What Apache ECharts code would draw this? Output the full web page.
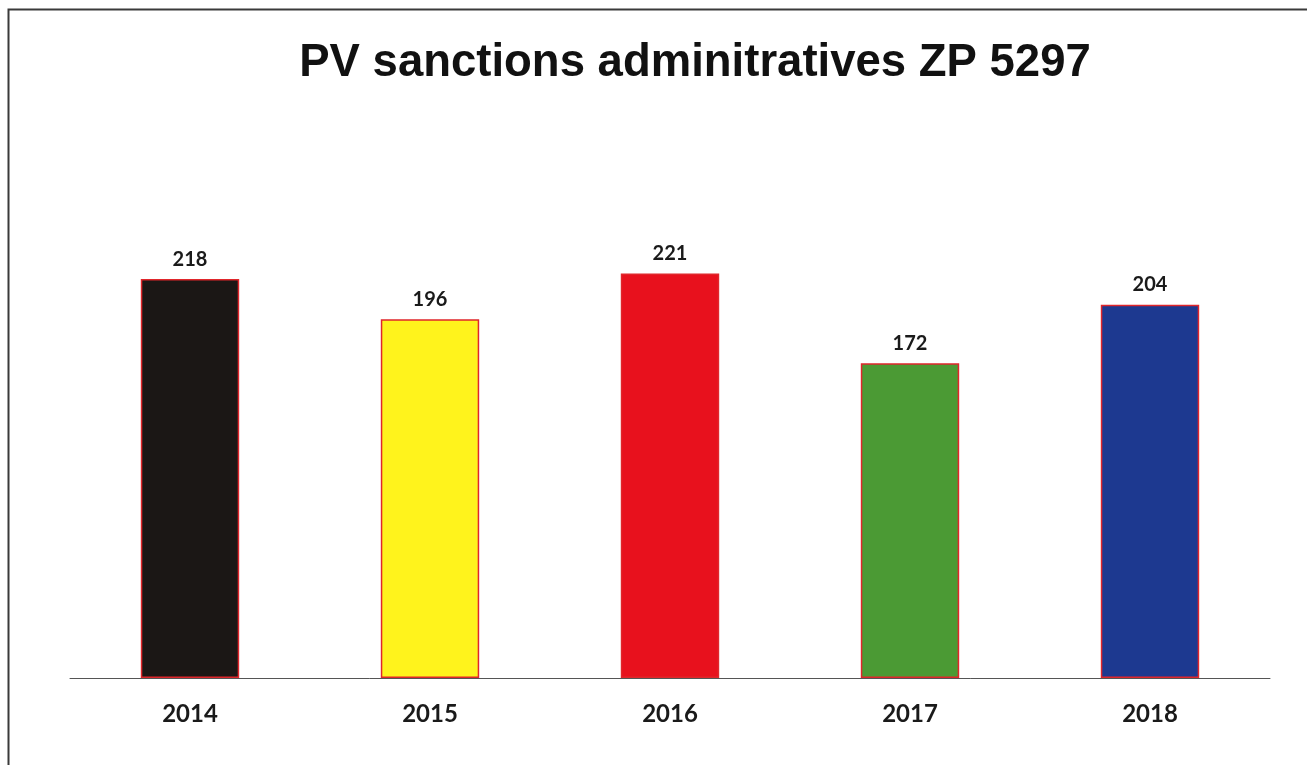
<!DOCTYPE html>
<html>
<head>
<meta charset="utf-8">
<script src="https://cdn.jsdelivr.net/npm/echarts@6/dist/echarts.min.js"></script>
<style>
  html, body { margin: 0; padding: 0; background: #fff; }
  #chart { width: 1307px; height: 765px; }
</style>
</head>
<body>
<div id="chart"></div>
<script>
// années et nombre de PV
const years = ['2014', '2015', '2016', '2017', '2018']
const counts = [218, 196, 221, 172, 204]
const barColors = ['#1b1715', '#fff31c', '#e8111d', '#4b9a34', '#1d3990']

const chart = echarts.init(document.getElementById('chart'))
chart.setOption({
  backgroundColor: '#fff',
  animation: false,
  title: {
    text: 'PV sanctions adminitratives ZP 5297',
    left: 690,
    top: 35,
    textAlign: 'center',
    textStyle: {
      fontFamily: 'Liberation Sans',
      fontSize: 45.5,
      fontWeight: 'bold',
      color: '#111'
    }
  },
  graphic: [
    {
      // cadre autour du graphique
      type: 'rect',
      shape: { x: 8.5, y: 9.5, width: 1400, height: 800 },
      style: { fill: 'none', stroke: '#3a3a3a', lineWidth: 2 },
      silent: true
    }
  ],
  grid: {
    left: 70,
    right: 37,
    top: 220.5,
    bottom: 87
  },
  xAxis: {
    type: 'category',
    data: years,
    axisTick: { show: false },
    axisLine: { lineStyle: { color: '#555', width: 1 } },
    axisLabel: {
      margin: 24,
      fontFamily: 'Lato',
      fontWeight: 'bold',
      fontSize: 24,
      color: '#1a1a1a'
    }
  },
  yAxis: {
    type: 'value',
    min: 0,
    max: 250,
    show: false,
    splitLine: { show: false }
  },
  series: [
    {
      type: 'bar',
      barWidth: '41%',
      data: counts.map((v, i) => ({
        value: v,
        itemStyle: { color: barColors[i] }
      })),
      itemStyle: {
        borderColor: '#e0262b',
        borderWidth: 1.5
      },
      label: {
        show: true,
        position: 'top',
        distance: 10,
        fontFamily: 'Lato',
        fontWeight: 'bold',
        fontSize: 20,
        color: '#1a1a1a'
      }
    }
  ]
})
</script>
</body>
</html>
